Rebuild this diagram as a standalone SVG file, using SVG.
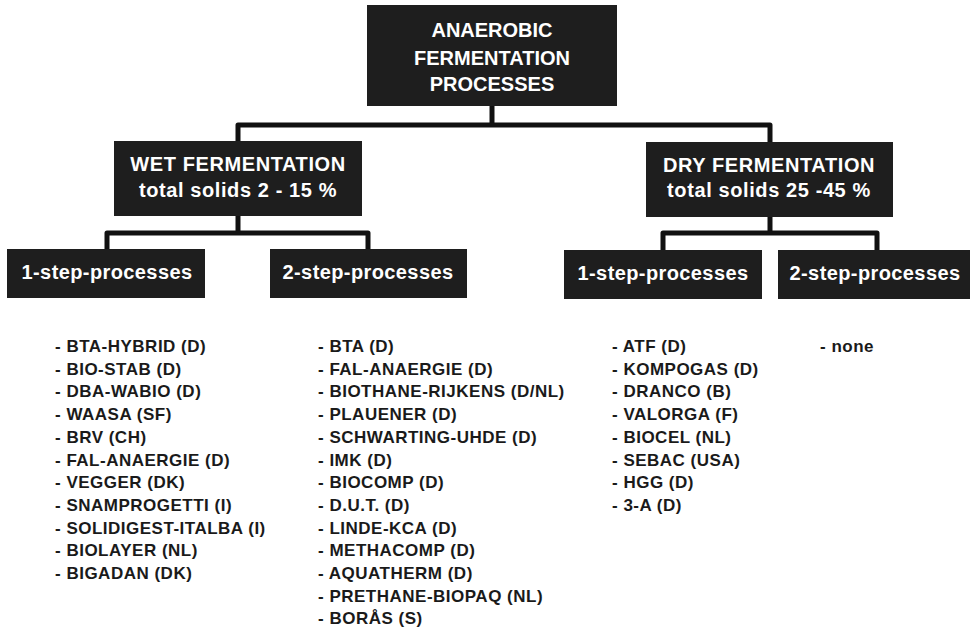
<svg xmlns="http://www.w3.org/2000/svg" width="970" height="634" viewBox="0 0 970 634">
<style>
.box{fill:#1e1e1e}
.bt{font-family:"Liberation Sans",Arial,sans-serif;font-weight:bold;font-size:20px;fill:#ffffff;text-anchor:middle}
.sp{letter-spacing:0.6px}
.st{letter-spacing:0.4px}
.conn{fill:none;stroke:#111;stroke-width:5;stroke-linejoin:round;stroke-linecap:butt}
.li{font-family:"Liberation Sans",Arial,sans-serif;font-weight:bold;font-size:17px;fill:#1a1a1a;letter-spacing:0.5px}
</style>
<rect width="970" height="634" fill="#ffffff"/>
<g id="connectors">
<path class="conn" d="M492,106 V125"/>
<path class="conn" d="M238,142 V125 H770 V143"/>
<path class="conn" d="M238,216 V233"/>
<path class="conn" d="M107,250 V233 H368 V250"/>
<path class="conn" d="M770,217 V233"/>
<path class="conn" d="M663,251 V233 H877 V251"/>
</g>
<g id="root">
<rect class="box" x="367" y="5" width="250" height="101"/>
<text class="bt" x="492" y="37">ANAEROBIC</text>
<text class="bt" x="492" y="65">FERMENTATION</text>
<text class="bt" x="492" y="91">PROCESSES</text>
</g>
<g id="wet">
<rect class="box" x="114" y="141" width="248" height="75"/>
<text class="bt sp" x="238" y="171">WET FERMENTATION</text>
<text class="bt sp" x="238" y="197">total solids 2 - 15 %</text>
</g>
<g id="dry">
<rect class="box" x="646" y="142" width="247" height="75"/>
<text class="bt sp" x="769" y="172">DRY FERMENTATION</text>
<text class="bt sp" x="769" y="197">total solids 25 -45 %</text>
</g>
<g id="wet1">
<rect class="box" x="7" y="249" width="198" height="49"/>
<text class="bt st" x="107" y="279">1-step-processes</text>
</g>
<g id="wet2">
<rect class="box" x="270" y="249" width="197" height="49"/>
<text class="bt st" x="368" y="279">2-step-processes</text>
</g>
<g id="dry1">
<rect class="box" x="564" y="250" width="198" height="49"/>
<text class="bt st" x="663" y="280">1-step-processes</text>
</g>
<g id="dry2">
<rect class="box" x="778" y="250" width="192" height="49"/>
<text class="bt st" x="875" y="280">2-step-processes</text>
</g>
<g id="list-wet1">
<text class="li" x="55" y="352">- BTA-HYBRID (D)</text>
<text class="li" x="55" y="374.7">- BIO-STAB (D)</text>
<text class="li" x="55" y="397.4">- DBA-WABIO (D)</text>
<text class="li" x="55" y="420.1">- WAASA (SF)</text>
<text class="li" x="55" y="442.8">- BRV (CH)</text>
<text class="li" x="55" y="465.5">- FAL-ANAERGIE (D)</text>
<text class="li" x="55" y="488.2">- VEGGER (DK)</text>
<text class="li" x="55" y="510.9">- SNAMPROGETTI (I)</text>
<text class="li" x="55" y="533.6">- SOLIDIGEST-ITALBA (I)</text>
<text class="li" x="55" y="556.3">- BIOLAYER (NL)</text>
<text class="li" x="55" y="579">- BIGADAN (DK)</text>
</g>
<g id="list-wet2">
<text class="li" x="318" y="352">- BTA (D)</text>
<text class="li" x="318" y="374.7">- FAL-ANAERGIE (D)</text>
<text class="li" x="318" y="397.4">- BIOTHANE-RIJKENS (D/NL)</text>
<text class="li" x="318" y="420.1">- PLAUENER (D)</text>
<text class="li" x="318" y="442.8">- SCHWARTING-UHDE (D)</text>
<text class="li" x="318" y="465.5">- IMK (D)</text>
<text class="li" x="318" y="488.2">- BIOCOMP (D)</text>
<text class="li" x="318" y="510.9">- D.U.T. (D)</text>
<text class="li" x="318" y="533.6">- LINDE-KCA (D)</text>
<text class="li" x="318" y="556.3">- METHACOMP (D)</text>
<text class="li" x="318" y="579">- AQUATHERM (D)</text>
<text class="li" x="318" y="601.7">- PRETHANE-BIOPAQ (NL)</text>
<text class="li" x="318" y="624.4">- BORÅS (S)</text>
</g>
<g id="list-dry1">
<text class="li" x="612" y="352">- ATF (D)</text>
<text class="li" x="612" y="374.7">- KOMPOGAS (D)</text>
<text class="li" x="612" y="397.4">- DRANCO (B)</text>
<text class="li" x="612" y="420.1">- VALORGA (F)</text>
<text class="li" x="612" y="442.8">- BIOCEL (NL)</text>
<text class="li" x="612" y="465.5">- SEBAC (USA)</text>
<text class="li" x="612" y="488.2">- HGG (D)</text>
<text class="li" x="612" y="510.9">- 3-A (D)</text>
</g>
<g id="list-dry2">
<text class="li" x="820" y="352">- none</text>
</g>
</svg>
